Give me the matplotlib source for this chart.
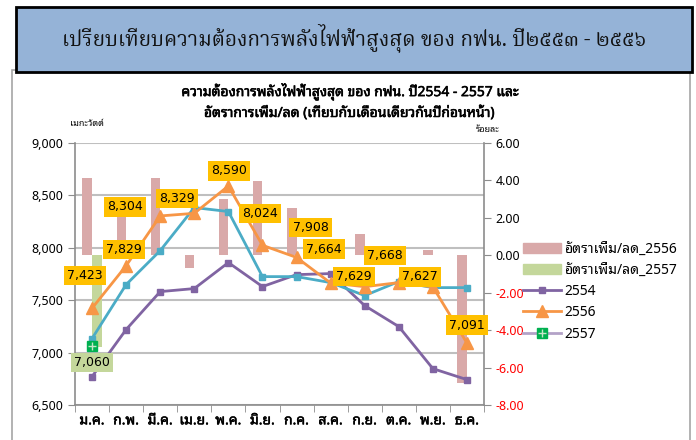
import numpy as np
import matplotlib
matplotlib.use("Agg")
import matplotlib.pyplot as plt
import matplotlib.patheffects as pe
from matplotlib import font_manager
from matplotlib.ft2font import FT2Font
from matplotlib.patches import Rectangle, Patch
from matplotlib.lines import Line2D

months = ['ม.ค.', 'ก.พ.', 'มี.ค.', 'เม.ย.', 'พ.ค.', 'มิ.ย.',
          'ก.ค.', 'ส.ค.', 'ก.ย.', 'ต.ค.', 'พ.ย.', 'ธ.ค.']

y2554 = [6771, 7220, 7582, 7611, 7859, 7630, 7744, 7754, 7448, 7248, 6847, 6742]
y2555 = [7134, 7649, 7973, 8384, 8346, 7725, 7725, 7668, 7544, 7678, 7620, 7620]
y2556 = [7423, 7829, 8304, 8329, 8590, 8024, 7908, 7664, 7629, 7668, 7627, 7091]
y2557 = [7060]

rate2556 = [4.15, 2.30, 4.15, -0.66, 3.00, 3.95, 2.55, -0.05, 1.15, -0.13, 0.30, -6.85]
rate2557 = [-4.89]

# label offsets (px, screen down positive) for the yellow boxes
lbl_off = [(-7, -33), (-2, -16), (-35, -9), (-17, -15), (1, -15), (-2, -32),
           (14, -30), (-7, -34), (-11, -10), (-14, -27), (-13, -10), (0, -18)]


def thai_font(prefer):
    found = []
    for f in font_manager.fontManager.ttflist:
        try:
            if 0x0E01 in FT2Font(f.fname).get_charmap():
                found.append(f.name)
        except Exception:
            pass
    for p in prefer:
        for n in found:
            if p.lower() in n.lower():
                return n
    return found[0] if found else 'DejaVu Sans'


sans_th = thai_font(['Noto Sans Thai', 'Tahoma', 'Loma', 'Garuda', 'Waree', 'Sarabun'])
serif_th = thai_font(['Noto Serif Thai', 'Angsana', 'Norasi', 'Kinnari', 'Sarabun', 'Noto Sans Thai'])
plt.rcParams['font.family'] = [sans_th, 'DejaVu Sans']

# fake bold for the thai text
bold = [pe.withStroke(linewidth=0.4, foreground='black')]

fig = plt.figure(figsize=(6.96, 4.4), dpi=100)

# outer chart frame and header box
fig.patches.append(Rectangle((12 / 696, -0.02), 678 / 696, 0.86, transform=fig.transFigure,
                             fill=False, edgecolor='#A6A6A6', lw=1.2, zorder=0))
fig.patches.append(Rectangle((16 / 696, 1 - 72 / 440), 676 / 696, 65 / 440, transform=fig.transFigure,
                             facecolor='#95B3D7', edgecolor='black', lw=2, zorder=1))
fig.text(0.509, 1 - 38 / 440, 'เปรียบเทียบความต้องการพลังไฟฟ้าสูงสุด ของ กฟน. ปี๒๕๕๓ - ๒๕๕๖',
         ha='center', va='center', fontsize=15, family=[serif_th, 'DejaVu Serif'], color='#111111')

fig.text(0.503, 1 - 92 / 440, 'ความต้องการพลังไฟฟ้าสูงสุด ของ กฟน. ปี2554 - 2557 และ',
         ha='center', va='center', fontsize=10, fontweight='bold', path_effects=bold)
fig.text(0.503, 1 - 113 / 440, 'อัตราการเพิ่ม/ลด (เทียบกับเดือนเดียวกันปีก่อนหน้า)',
         ha='center', va='center', fontsize=10, fontweight='bold', path_effects=bold)

pos = [75 / 696, 1 - 405 / 440, 409 / 696, 262 / 440]
x = np.arange(len(months))

ax = fig.add_axes(pos)
ax.set_ylim(6500, 9000)
ax.set_xlim(-0.5, 11.5)
ax.set_yticks(np.arange(6500, 9001, 500))
ax.set_yticklabels([f'{v:,}' for v in range(6500, 9001, 500)], fontsize=9)
ax.grid(axis='y', color='#BFBFBF', lw=1.5)
ax.set_axisbelow(True)
ax.set_xticks(x)
ax.set_xticklabels(months, fontsize=10, fontweight='bold')
for t in ax.get_xticklabels():
    t.set_path_effects([pe.withStroke(linewidth=0.35, foreground='black')])
ax.set_xticks(np.arange(-0.5, 12, 1), minor=True)
ax.tick_params(axis='x', which='major', length=0, pad=6)
ax.tick_params(axis='x', which='minor', length=5, color='#8C8C8C')
ax.tick_params(axis='y', length=5, color='#8C8C8C')
for s in ['top', 'right']:
    ax.spines[s].set_visible(False)
for s in ['left', 'bottom']:
    ax.spines[s].set_color('#8C8C8C')
    ax.spines[s].set_linewidth(1.2)
fig.text(87 / 696, 1 - 124 / 440, 'เมกะวัตต์', ha='center', va='center', fontsize=6.5, fontweight='bold')

axr = ax.twinx()
axr.set_ylim(-8, 6)
axr.set_yticks(np.arange(-8, 6.1, 2))
axr.set_yticklabels([f'{v:.2f}' for v in np.arange(-8, 6.1, 2)], fontsize=9)
for t, v in zip(axr.get_yticklabels(), np.arange(-8, 6.1, 2)):
    t.set_color('#FF0000' if v < 0 else 'black')
axr.tick_params(axis='y', length=5, color='#8C8C8C')
for s in ['top', 'left', 'bottom']:
    axr.spines[s].set_visible(False)
axr.spines['right'].set_color('#8C8C8C')
axr.spines['right'].set_linewidth(1.2)
axr.bar(x - 0.14, rate2556, width=0.28, color='#D9A9A9')
axr.bar(x[:len(rate2557)] + 0.14, rate2557, width=0.28, color='#C4D79B')
fig.text(488 / 696, 1 - 130 / 440, 'ร้อยละ', ha='center', va='center', fontsize=6.5, fontweight='bold')

axl = fig.add_axes(pos, sharex=ax, sharey=ax)
axl.axis('off')
axl.plot(x, y2554, color='#8064A2', lw=2, marker='s', ms=5)
axl.plot(x, y2555, color='#4BACC6', lw=2, marker='s', ms=5)
axl.plot(x, y2556, color='#F79646', lw=2, marker='^', ms=8)
xj = x[:len(y2557)]
axl.plot(xj, y2557, color='#B3A2C7', lw=2, marker='s', ms=7, mfc='#00B050', mec='#00B050')
axl.plot(xj, y2557, ls='none', marker='+', ms=6, mew=1, color='#C8E6C9')

for xi, v, (dx, dy) in zip(x, y2556, lbl_off):
    axl.annotate(f'{v:,}', (xi, v), xytext=(dx * 0.72, -dy * 0.72), textcoords='offset points',
                 ha='center', va='center', fontsize=9, family='DejaVu Sans',
                 bbox=dict(boxstyle='square,pad=0.25', fc='#FFC000', ec='none'))
axl.annotate(f'{y2557[0]:,}', (0, y2557[0]), xytext=(0, -16 * 0.72), textcoords='offset points',
             ha='center', va='center', fontsize=9, family='DejaVu Sans',
             bbox=dict(boxstyle='square,pad=0.25', fc='#C4D79B', ec='none'))

handles = [Patch(color='#D9A9A9'), Patch(color='#C4D79B'),
           Line2D([], [], color='#8064A2', lw=2, marker='s', ms=5),
           Line2D([], [], color='#F79646', lw=2, marker='^', ms=8),
           (Line2D([], [], color='#B3A2C7', lw=2, marker='s', ms=7, mfc='#00B050', mec='#00B050'),
            Line2D([], [], ls='none', marker='+', ms=6, color='#C8E6C9'))]
labels = ['อัตราเพิ่ม/ลด_2556', 'อัตราเพิ่ม/ลด_2557', '2554', '2556', '2557']
fig.legend(handles, labels, loc='upper left', bbox_to_anchor=(510 / 696, 1 - 229 / 440),
           frameon=False, fontsize=10, handlelength=2.8, handletextpad=0.2, labelspacing=0.45)

plt.savefig('out.png', dpi=100)
